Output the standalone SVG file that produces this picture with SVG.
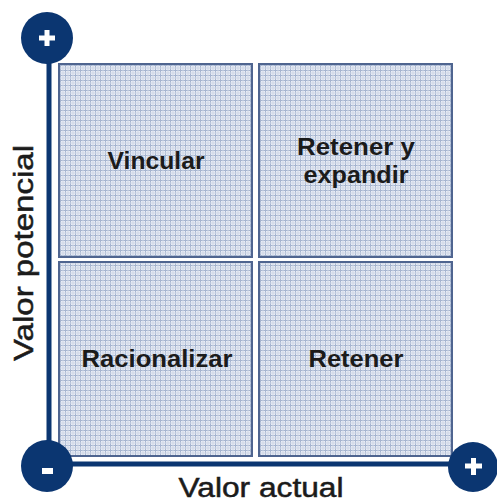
<svg xmlns="http://www.w3.org/2000/svg" width="497" height="502" viewBox="0 0 497 502">
<defs>
<pattern id="grid" width="5" height="5" patternUnits="userSpaceOnUse">
<rect width="5" height="5" fill="#eaeef6"/>
<path d="M0 0.5H5M0.5 0V5" stroke="#a6b5d0" stroke-width="1"/>
<path d="M0 3H5M3 0V5" stroke="#cfd7e7" stroke-width="1"/>
</pattern>
<style>
.q{fill:url(#grid);stroke:#4f6590;stroke-width:2}
.ql{font-family:"Liberation Sans",Arial,sans-serif;font-weight:bold;font-size:23px;fill:#1b1b1b;text-anchor:middle}
.ax{font-family:"Liberation Sans",Arial,sans-serif;font-size:27px;fill:#1b1b1b;stroke:#1b1b1b;stroke-width:0.5;text-anchor:middle}
.dot{fill:#0b3671}
.sym{fill:#ffffff}
</style>
</defs>
<rect width="497" height="502" fill="#ffffff"/>
<g id="connectors">
<line x1="49" y1="40" x2="49" y2="466" stroke="#0b3671" stroke-width="5"/>
<line x1="47" y1="464" x2="474" y2="464" stroke="#0b3671" stroke-width="5"/>
</g>
<g id="q-vincular">
<rect class="q" x="59" y="64" width="193" height="193"/>
<text class="ql" x="156" y="169" textLength="97" lengthAdjust="spacingAndGlyphs">Vincular</text>
</g>
<g id="q-retener-expandir">
<rect class="q" x="259" y="64" width="193" height="193"/>
<text class="ql" x="356" y="155" textLength="118" lengthAdjust="spacingAndGlyphs">Retener y</text>
<text class="ql" x="356" y="183" textLength="105" lengthAdjust="spacingAndGlyphs">expandir</text>
</g>
<g id="q-racionalizar">
<rect class="q" x="59" y="262" width="193" height="194"/>
<text class="ql" x="157" y="367" textLength="151" lengthAdjust="spacingAndGlyphs">Racionalizar</text>
</g>
<g id="q-retener">
<rect class="q" x="259" y="262" width="193" height="194"/>
<text class="ql" x="356" y="367" textLength="95" lengthAdjust="spacingAndGlyphs">Retener</text>
</g>
<g id="top-plus">
<circle class="dot" cx="47" cy="38" r="26"/>
<rect class="sym" x="39" y="35.5" width="16" height="5"/>
<rect class="sym" x="44.5" y="30" width="5" height="16"/>
</g>
<g id="origin-minus">
<circle class="dot" cx="47" cy="466" r="26"/>
<rect class="sym" x="42" y="468" width="11" height="6"/>
</g>
<g id="right-plus">
<circle class="dot" cx="473" cy="467" r="25"/>
<rect class="sym" x="465" y="463.5" width="17" height="5"/>
<rect class="sym" x="471" y="458" width="5" height="17"/>
</g>
<g id="labels">
<text class="ax" x="261" y="497" textLength="165" lengthAdjust="spacingAndGlyphs">Valor actual</text>
<text class="ax" transform="translate(33,253) rotate(-90)" x="0" y="0" textLength="216" lengthAdjust="spacingAndGlyphs">Valor potencial</text>
</g>
</svg>
